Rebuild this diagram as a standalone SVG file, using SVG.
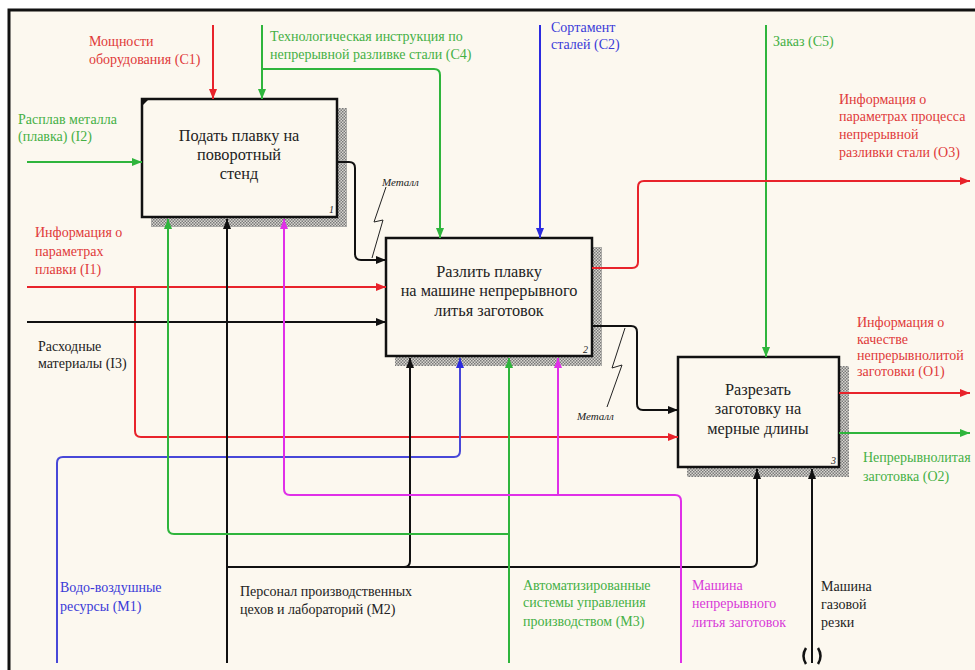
<svg xmlns="http://www.w3.org/2000/svg" width="975" height="670" viewBox="0 0 975 670">
  <defs>
    <style>
      .lbl { font-family: "Liberation Serif", "Times New Roman", serif; font-size: 14px; }
      .box-text { font-family: "Liberation Serif", "Times New Roman", serif; font-size: 16.3px; fill: #222; text-anchor: middle; }
      .num { font-family: "Liberation Serif", serif; font-size: 10px; fill: #222; font-style: italic; }
      .tag { font-family: "Liberation Serif", serif; font-size: 11px; font-style: italic; fill: #222; }
      .box { fill: #fcf8ef; stroke: #111; stroke-width: 2.5; }
      .shadow { fill: url(#hatch); }
      .c { fill: none; stroke-width: 2; stroke-linejoin: round; }
      .red { stroke: #e8232b; }
      .grn { stroke: #2fb53c; }
      .blu { stroke: #2b2be0; }
      .blu2 { stroke: #4848d8; }
      .mag { stroke: #e030e8; }
      .blk { stroke: #111; }
      .t-red { fill: #e03a3a; }
      .t-grn { fill: #45b045; }
      .t-blu { fill: #3a3ad8; }
      .t-mag { fill: #d838d8; }
      .t-blk { fill: #222; }
      .squig { fill: none; stroke: #222; stroke-width: 1; }
    </style>
    <pattern id="hatch" width="3" height="3" patternUnits="userSpaceOnUse">
      <rect width="3" height="3" fill="#d8d6d0"/>
      <rect width="1.5" height="1.5" fill="#7a7a7a"/>
      <rect x="1.5" y="1.5" width="1.5" height="1.5" fill="#7a7a7a"/>
    </pattern>
    <marker id="a-red" viewBox="0 0 10 8" refX="10" refY="4" markerWidth="10" markerHeight="8" markerUnits="userSpaceOnUse" orient="auto"><path d="M0,0 L10,4 L0,8 Z" fill="#e8232b"/></marker>
    <marker id="a-grn" viewBox="0 0 10 8" refX="10" refY="4" markerWidth="10" markerHeight="8" markerUnits="userSpaceOnUse" orient="auto"><path d="M0,0 L10,4 L0,8 Z" fill="#2fb53c"/></marker>
    <marker id="a-blu" viewBox="0 0 10 8" refX="10" refY="4" markerWidth="10" markerHeight="8" markerUnits="userSpaceOnUse" orient="auto"><path d="M0,0 L10,4 L0,8 Z" fill="#2b2be0"/></marker>
    <marker id="a-mag" viewBox="0 0 10 8" refX="10" refY="4" markerWidth="10" markerHeight="8" markerUnits="userSpaceOnUse" orient="auto"><path d="M0,0 L10,4 L0,8 Z" fill="#e030e8"/></marker>
    <marker id="a-blk" viewBox="0 0 10 8" refX="10" refY="4" markerWidth="10" markerHeight="8" markerUnits="userSpaceOnUse" orient="auto"><path d="M0,0 L10,4 L0,8 Z" fill="#111"/></marker>
  </defs>

  <!-- sheet background and frame -->
  <rect x="0" y="0" width="975" height="670" fill="#ffffff"/>
  <rect x="9" y="10" width="966" height="660" fill="#fcf8ef"/>
  <path d="M9,670 V10 H975" fill="none" stroke="#111" stroke-width="3"/>

  <!-- activity boxes -->
  <g id="A1">
    <path class="shadow" d="M337,108 H347 V227 H151 V217 H337 Z"/>
    <rect class="box" x="142" y="99" width="195" height="118"/>
    <path d="M142,99 L149,99 L142,106 Z" fill="#111"/>
    <text class="box-text" x="239" y="141">Подать плавку на</text>
    <text class="box-text" x="239" y="160">поворотный</text>
    <text class="box-text" x="239" y="179">стенд</text>
    <text class="num" x="329" y="213">1</text>
  </g>
  <g id="A2">
    <path class="shadow" d="M592,247 H602 V366 H395 V356 H592 Z"/>
    <rect class="box" x="386" y="238" width="206" height="118"/>
    <text class="box-text" x="489" y="277">Разлить плавку</text>
    <text class="box-text" x="489" y="296">на машине непрерывного</text>
    <text class="box-text" x="489" y="316">литья заготовок</text>
    <text class="num" x="583" y="353">2</text>
  </g>
  <g id="A3">
    <path class="shadow" d="M839,366 H849 V477 H687 V467 H839 Z"/>
    <rect class="box" x="678" y="357" width="161" height="110"/>
    <text class="box-text" x="758" y="395">Разрезать</text>
    <text class="box-text" x="758" y="414">заготовку на</text>
    <text class="box-text" x="758" y="434">мерные длины</text>
    <text class="num" x="831" y="464">3</text>
  </g>

  <!-- connectors -->
  <g id="connectors">
    <!-- controls -->
    <path class="c red" d="M213,25 V99" marker-end="url(#a-red)"/>
    <path class="c grn" d="M262,25 V99" marker-end="url(#a-grn)"/>
    <path class="c grn" d="M262,69 H434 Q440,69 440,75 V238" marker-end="url(#a-grn)"/>
    <path class="c blu" d="M540,25 V238" marker-end="url(#a-blu)"/>
    <path class="c grn" d="M766,25 V357" marker-end="url(#a-grn)"/>

    <!-- inputs -->
    <path class="c grn" d="M27,162 H142" marker-end="url(#a-grn)"/>
    <path class="c red" d="M27,287 H386" marker-end="url(#a-red)"/>
    <path class="c red" d="M135,287 V431 Q135,437 141,437 H678" marker-end="url(#a-red)"/>
    <path class="c blk" d="M27,322 H386" marker-end="url(#a-blk)"/>

    <!-- metal flow between activities -->
    <path class="c blk" d="M337,162 H349 Q355,162 355,168 V254 Q355,260 361,260 H386" marker-end="url(#a-blk)"/>
    <path class="c blk" d="M592,326 H631 Q637,326 637,332 V404 Q637,410 643,410 H678" marker-end="url(#a-blk)"/>

    <!-- outputs -->
    <path class="c red" d="M592,268 H632 Q638,268 638,262 V187 Q638,181 644,181 H970" marker-end="url(#a-red)"/>
    <path class="c red" d="M839,393 H970" marker-end="url(#a-red)"/>
    <path class="c grn" d="M839,433 H970" marker-end="url(#a-grn)"/>

    <!-- mechanisms -->
    <path class="c blu2" d="M57,663 V463 Q57,457 63,457 H454 Q460,457 460,451 V358" marker-end="url(#a-blu)"/>
    <path class="c blk" d="M227,663 V219" marker-end="url(#a-blk)"/>
    <path class="c blk" d="M227,567 H404 Q410,567 410,561 V358" marker-end="url(#a-blk)"/>
    <path class="c blk" d="M404,567 H751 Q757,567 757,561 V469" marker-end="url(#a-blk)"/>
    <path class="c grn" d="M509,663 V358" marker-end="url(#a-grn)"/>
    <path class="c grn" d="M509,534 H174 Q168,534 168,528 V219" marker-end="url(#a-grn)"/>
    <path class="c mag" d="M681,663 V501 Q681,495 675,495 H290 Q284,495 284,489 V219" marker-end="url(#a-mag)"/>
    <path class="c mag" d="M558,495 V358" marker-end="url(#a-mag)"/>
    <path class="c blk" d="M812,663 V469" marker-end="url(#a-blk)"/>
    <!-- tunnel brackets -->
    <path d="M806,648 Q801,656 806,664" fill="none" stroke="#111" stroke-width="2.5"/>
    <path d="M818,648 Q823,656 818,664" fill="none" stroke="#111" stroke-width="2.5"/>

    <!-- squiggles tying labels to the metal flow -->
    <path class="squig" d="M386,187 L374,222 L383,220 L372,258"/>
    <path class="squig" d="M625,328 L612,368 L622,365 L607,407"/>
  </g>

  <!-- arrow labels -->
  <g id="labels">
    <text class="lbl t-red" x="89" y="46">Мощности</text>
    <text class="lbl t-red" x="89" y="64">оборудования (С1)</text>

    <text class="lbl t-grn" x="270" y="41">Технологическая инструкция по</text>
    <text class="lbl t-grn" x="270" y="59">непрерывной разливке стали (С4)</text>

    <text class="lbl t-blu" x="551" y="32">Сортамент</text>
    <text class="lbl t-blu" x="551" y="49">сталей (С2)</text>

    <text class="lbl t-grn" x="773" y="46">Заказ (С5)</text>

    <text class="lbl t-red" x="839" y="104">Информация о</text>
    <text class="lbl t-red" x="839" y="121">параметрах процесса</text>
    <text class="lbl t-red" x="839" y="139">непрерывной</text>
    <text class="lbl t-red" x="839" y="157">разливки стали (О3)</text>

    <text class="lbl t-grn" x="18" y="124">Расплав металла</text>
    <text class="lbl t-grn" x="18" y="141">(плавка) (I2)</text>

    <text class="lbl t-red" x="35" y="237">Информация о</text>
    <text class="lbl t-red" x="35" y="256">параметрах</text>
    <text class="lbl t-red" x="35" y="274">плавки (I1)</text>

    <text class="lbl t-blk" x="38" y="351">Расходные</text>
    <text class="lbl t-blk" x="38" y="368">материалы (I3)</text>

    <text class="tag" x="382" y="186">Металл</text>
    <text class="tag" x="577" y="420">Металл</text>

    <text class="lbl t-red" x="857" y="327">Информация о</text>
    <text class="lbl t-red" x="857" y="344">качестве</text>
    <text class="lbl t-red" x="857" y="360">непрерывнолитой</text>
    <text class="lbl t-red" x="857" y="376">заготовки (О1)</text>

    <text class="lbl t-grn" x="863" y="462">Непрерывнолитая</text>
    <text class="lbl t-grn" x="863" y="481">заготовка (О2)</text>

    <text class="lbl t-blu" x="60" y="592">Водо-воздушные</text>
    <text class="lbl t-blu" x="60" y="611">ресурсы (М1)</text>

    <text class="lbl t-blk" x="240" y="596">Персонал производственных</text>
    <text class="lbl t-blk" x="240" y="614">цехов и лабораторий (М2)</text>

    <text class="lbl t-grn" x="523" y="590">Автоматизированные</text>
    <text class="lbl t-grn" x="523" y="607">системы управления</text>
    <text class="lbl t-grn" x="523" y="626">производством (М3)</text>

    <text class="lbl t-mag" x="692" y="590">Машина</text>
    <text class="lbl t-mag" x="692" y="608">непрерывного</text>
    <text class="lbl t-mag" x="692" y="627">литья заготовок</text>

    <text class="lbl t-blk" x="821" y="591">Машина</text>
    <text class="lbl t-blk" x="821" y="609">газовой</text>
    <text class="lbl t-blk" x="821" y="627">резки</text>
  </g>
</svg>
